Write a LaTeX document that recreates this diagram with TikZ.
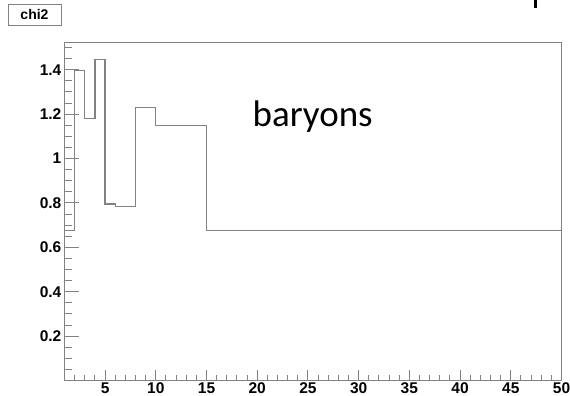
\documentclass[tikz,border=0pt]{standalone}
\usepackage{fontspec}
\setmainfont{Liberation Sans}
\newfontfamily\calib{Carlito}
\definecolor{axgray}{RGB}{130,130,130}
\begin{document}
\begin{tikzpicture}[x=1pt,y=1pt,
  axisline/.style={draw=axgray, line width=1pt},
  histline/.style={draw=axgray, line width=1.3pt},
  ticklab/.style={font=\bfseries\fontsize{15.5}{17}\selectfont, inner sep=0pt},
  titlebox/.style={draw=axgray, line width=0.8pt, fill=white, font=\bfseries\fontsize{14}{16}\selectfont, minimum width=53pt, minimum height=21pt, inner sep=0pt}]
\useasboundingbox (0,0) rectangle (570,396);
\fill[white] (0,0) rectangle (570,396);
% title box
\node[titlebox] (title) at (34.5,381.5) {chi2};
% cut-off glyph at top right
\fill[black] (533.8,388) rectangle (536.8,396);
\begin{scope}[x=10.143pt, y=222pt, shift={(54.357pt,15.5pt)}]
  % frame
  \coordinate (ll) at (1,0);
  \coordinate (ur) at (50,1.523);
  \draw[axisline] (ll) rectangle (ur);
  % y ticks
  \foreach \k in {1,...,30} {
    \pgfmathsetmacro{\yy}{0.05*\k}
    \draw[axgray, line width=0.9pt] (1,\yy) -- ++(7pt,0);
  }
  \foreach \k in {1,...,7} {
    \pgfmathsetmacro{\yy}{0.2*\k}
    \draw[axgray, line width=0.9pt] (1,\yy) -- ++(14pt,0);
  }
  \foreach \lab/\yy in {0.2/0.2,0.4/0.4,0.6/0.6,0.8/0.8,1/1,1.2/1.2,1.4/1.4}
    \node[ticklab, anchor=east] (yl\lab) at ([xshift=-3pt]1,\yy) {\lab};
  % x ticks
  \foreach \xx in {2,...,49}
    \draw[axgray, line width=0.9pt] (\xx,0) -- ++(0,5pt);
  \foreach \xx in {5,10,...,45}
    \draw[axgray, line width=0.9pt] (\xx,0) -- ++(0,10pt);
  \foreach \xx in {5,10,...,50}
    \node[ticklab, anchor=base] (xl\xx) at ([yshift=-12.8pt]\xx,0) {\xx};
  % histogram
  \draw[histline] (1,0.675) -- (2,0.675) -- (2,1.395) -- (3,1.395) -- (3,1.181)
    -- (4,1.181) -- (4,1.447) -- (5,1.447) -- (5,0.795) -- (6,0.795)
    -- (6,0.783) -- (8,0.783) -- (8,1.231) -- (10,1.231) -- (10,1.148)
    -- (15,1.148) -- (15,0.675) -- (50,0.675);
\end{scope}
\node[anchor=base west, inner sep=0pt, font=\calib\fontsize{37}{40}\selectfont] (bar) at (252.5,269) {baryons};
\end{tikzpicture}
\end{document}
